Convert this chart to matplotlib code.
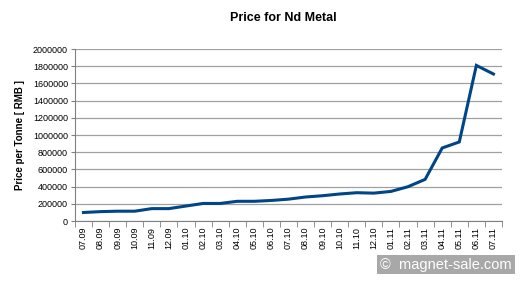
from matplotlib import pyplot as plt
import numpy as np

# monthly price data
months = ['07.09', '08.09', '09.09', '10.09', '11.09', '12.09',
          '01.10', '02.10', '03.10', '04.10', '05.10', '06.10',
          '07.10', '08.10', '09.10', '10.10', '11.10', '12.10',
          '01.11', '02.11', '03.11', '04.11', '05.11', '06.11', '07.11']
prices = [100000, 110000, 115000, 115000, 145000, 145000,
          175000, 205000, 205000, 230000, 230000, 240000,
          255000, 280000, 295000, 315000, 330000, 325000,
          345000, 400000, 485000, 850000, 920000, 1810000, 1710000]
yticks = list(range(0, 2000001, 200000))

plt.rcParams['font.family'] = ['Liberation Sans', 'DejaVu Sans']

fig = plt.figure(figsize=(5.24, 2.82), dpi=100)
ax = fig.add_axes([0.143, 0.216, 0.815, 0.61])

x = np.arange(len(months))
ax.plot(x, prices, color='#004586', linewidth=2.2, solid_joinstyle='miter')

ax.set_xlim(-0.5, len(months) - 0.5)
ax.set_ylim(0, 2000000)
ax.set_yticks(yticks)
ax.set_yticklabels([str(v) for v in yticks], fontsize=6.5)
ax.set_xticks(x)
ax.set_xticklabels(months, rotation=90, fontsize=6.5)
ax.set_xticks(np.arange(-0.5, len(months)), minor=True)
ax.tick_params(axis='x', which='major', length=0, pad=4)
ax.tick_params(axis='x', which='minor', length=4, color='#808080', direction='out')
ax.tick_params(axis='y', length=3, color='#808080', pad=2)

ax.grid(axis='y', color='#a0a0a0', linewidth=0.9)
ax.set_axisbelow(True)
for side in ['top', 'right']:
    ax.spines[side].set_visible(False)
for side in ['left', 'bottom']:
    ax.spines[side].set_color('#808080')

ax.set_ylabel('Price per Tonne [ RMB ]', fontsize=7, fontweight='bold', labelpad=6)
fig.text(0.54, 0.935, 'Price for Nd Metal', fontsize=9, fontweight='bold',
         ha='center', va='center')

# watermark
fig.text(0.851, 0.062, '\u00a9  magnet-sale.com', fontsize=10.5, color='white',
         ha='center', va='center',
         bbox=dict(boxstyle='square,pad=0.2', facecolor='#a8a8a8', edgecolor='none'))

plt.savefig('out.png', dpi=100)
